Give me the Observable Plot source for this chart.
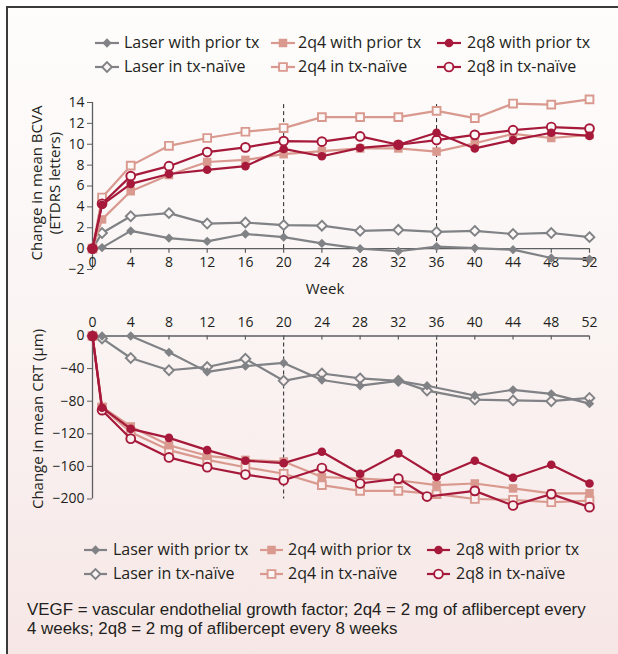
<!DOCTYPE html>
<html><head><meta charset="utf-8">
<script src="https://cdn.jsdelivr.net/npm/d3@7"></script>
<script src="https://cdn.jsdelivr.net/npm/@observablehq/plot@0.6"></script>
<style>
html,body{margin:0;padding:0;background:#fff;}
#root{position:relative;width:618px;height:654px;overflow:hidden;font-family:"Open Sans",sans-serif;color:#231f20;}
#frame{position:absolute;left:6px;top:6px;width:612px;height:648px;border-left:2px solid #3a3a3a;border-top:2px solid #3a3a3a;
  background:linear-gradient(to bottom,#fefdfc 0%,#faf4f3 50%,#f6e7e6 100%);}
.abs{position:absolute;}
.leg{position:absolute;font-size:16px;line-height:20px;white-space:nowrap;}
.leg svg{position:absolute;top:0;}
.ytitle{position:absolute;transform:translate(-50%,-50%) rotate(-90deg);font-size:15px;line-height:17px;text-align:center;white-space:nowrap;}
.foot{position:absolute;font-family:"Liberation Sans",Arial,sans-serif;font-size:16.9px;line-height:19px;white-space:nowrap;}
</style>
</head><body>
<div id="root"><div id="frame"></div></div>
<script>
// ---------- data ----------
const weeks = [0,1,4,8,12,16,20,24,28,32,36,40,44,48,52];
const weeksAlt = [0,1,4,8,12,16,20,24,28,32,35,40,44,48,52];
const xTickLabels = [0,4,8,12,16,20,24,28,32,36,40,44,48,52];
const bcvaTicks = [-2,0,2,4,6,8,10,12,14];
const crtTicks = [0,-40,-80,-120,-160,-200];
const markerWeeks = [20,36];

const seriesNames = ["Laser with prior tx","2q4 with prior tx","2q8 with prior tx","Laser in tx-naïve","2q4 in tx-naïve","2q8 in tx-naïve"];

const bcvaLaserPrior = [0,0.1,1.7,1.0,0.7,1.4,1.1,0.5,0.0,-0.25,0.2,0.05,-0.1,-0.9,-1.0];
const bcvaLaserNaive = [0,1.5,3.1,3.4,2.4,2.5,2.25,2.2,1.7,1.8,1.6,1.7,1.4,1.5,1.1];
const bcva2q4Prior   = [0,2.8,5.5,7.05,8.3,8.5,9.05,9.35,9.6,9.6,9.3,10.1,11.0,10.6,10.9];
const bcva2q4Naive   = [0,4.9,7.95,9.85,10.6,11.2,11.55,12.6,12.6,12.6,13.2,12.5,13.9,13.8,14.3];
const bcva2q8Prior   = [0,4.2,6.2,7.15,7.55,7.9,9.55,8.85,9.65,9.95,11.1,9.6,10.4,11.1,10.8];
const bcva2q8Naive   = [0,4.3,6.95,7.9,9.25,9.7,10.3,10.25,10.75,9.95,10.4,10.9,11.35,11.65,11.5];

const crtLaserPrior = [0,0,0,-20,-44,-37,-33,-54,-61,-55,-61,-73,-66,-71,-83];      // weeksAlt
const crtLaserNaive = [0,-3,-27,-42,-38,-28,-55,-46,-52,-55,-67,-78,-79,-80,-76];   // weeksAlt
const crt2q4Prior   = [0,-87,-111,-134,-147,-152,-154,-173,-175,-177,-183,-181,-187,-193,-193];
const crt2q4Naive   = [0,-88,-118,-140,-152,-161,-169,-183,-190,-190,-194,-200,-201,-204,-202];
const crt2q8Prior   = [0,-88,-114,-125,-140,-153,-156,-142,-169,-144,-173,-153,-174,-158,-181];
const crt2q8Naive   = [0,-91,-126,-149,-161,-170,-177,-162,-181,-175,-197,-190,-208,-194,-210]; // weeksAlt

const footLines = ["VEGF = vascular endothelial growth factor; 2q4 = 2 mg of aflibercept every",
                   "4 weeks; 2q8 = 2 mg of aflibercept every 8 weeks"];

// ---------- styles ----------
const GRAY = "#808285", PINK = "#d9998f", CRIMSON = "#a6193a";
const AXIS = "#5d5e61", TEXT = "#231f20";
const styleOf = {
  "Laser with prior tx": {color: GRAY, symbol: "diamond2", filled: true, r: 4.2},
  "Laser in tx-naïve":   {color: GRAY, symbol: "diamond2", filled: false, r: 4.4},
  "2q4 with prior tx":   {color: PINK, symbol: "square", filled: true, r: 4.8},
  "2q4 in tx-naïve":     {color: PINK, symbol: "square", filled: false, r: 4.4},
  "2q8 with prior tx":   {color: CRIMSON, symbol: "circle", filled: true, r: 4.3},
  "2q8 in tx-naïve":     {color: CRIMSON, symbol: "circle", filled: false, r: 4.4}
};

function table(xs, ys) { return xs.map((w, i) => ({week: w, value: ys[i]})); }

const bcvaSeries = [
  ["Laser in tx-naïve", table(weeks, bcvaLaserNaive)],
  ["Laser with prior tx", table(weeks, bcvaLaserPrior)],
  ["2q4 with prior tx", table(weeks, bcva2q4Prior)],
  ["2q4 in tx-naïve", table(weeks, bcva2q4Naive)],
  ["2q8 in tx-naïve", table(weeks, bcva2q8Naive)],
  ["2q8 with prior tx", table(weeks, bcva2q8Prior)]
];
const crtSeries = [
  ["Laser in tx-naïve", table(weeksAlt, crtLaserNaive)],
  ["Laser with prior tx", table(weeksAlt, crtLaserPrior)],
  ["2q4 in tx-naïve", table(weeks, crt2q4Naive)],
  ["2q4 with prior tx", table(weeks, crt2q4Prior)],
  ["2q8 in tx-naïve", table(weeksAlt, crt2q8Naive)],
  ["2q8 with prior tx", table(weeks, crt2q8Prior)]
];

function seriesMarks(list, bg) {
  const marks = [];
  for (const [name, data] of list) {
    const s = styleOf[name];
    marks.push(Plot.line(data, {x: "week", y: "value", stroke: s.color, strokeWidth: 2.2}));
    marks.push(Plot.dot(data, {x: "week", y: "value", symbol: s.symbol, r: s.r,
      fill: s.filled ? s.color : bg, stroke: s.color, strokeWidth: s.filled ? 0 : 1.9}));
  }
  return marks;
}

const root = document.getElementById("root");

// ---------- top chart (BCVA) ----------
const topChart = Plot.plot({
  width: 618, height: 210,
  marginLeft: 92, marginRight: 29, marginTop: 12, marginBottom: 31,
  x: {domain: [0, 52], axis: null},
  y: {domain: [-2, 14], axis: null},
  style: {background: "transparent", overflow: "visible", fontFamily: "Open Sans, sans-serif"},
  marks: [
    Plot.ruleX(markerWeeks, {x: d => d, y1: 0, y2: 14, stroke: "#222", strokeWidth: 1, strokeDasharray: "4,3"}),
    Plot.axisY({ticks: bcvaTicks, tickSize: 5, tickPadding: 3, stroke: AXIS, fill: TEXT, fontSize: 14, label: null}),
    Plot.ruleX([0], {y1: -2, y2: 14, stroke: AXIS, strokeWidth: 1.3}),
    Plot.ruleY([0], {x1: 0, x2: 52, stroke: AXIS, strokeWidth: 1.3}),
    Plot.ruleX(xTickLabels, {x: d => d, y1: 0, y2: -0.45, stroke: AXIS, strokeWidth: 1.2}),
    Plot.text(xTickLabels, {x: d => d, y: 0, dy: 14, text: d => String(d), fill: TEXT, fontSize: 14}),
    ...seriesMarks(bcvaSeries, "#fcf8f7")
  ]
});
topChart.style.position = "absolute"; topChart.style.left = "0px"; topChart.style.top = "90px";
root.appendChild(topChart);

// ---------- bottom chart (CRT) ----------
const botChart = Plot.plot({
  width: 618, height: 220,
  marginLeft: 92, marginRight: 29, marginTop: 35.5, marginBottom: 21.5,
  x: {domain: [0, 52], axis: null},
  y: {domain: [-200, 0], axis: null},
  style: {background: "transparent", overflow: "visible", fontFamily: "Open Sans, sans-serif"},
  marks: [
    Plot.ruleX(markerWeeks, {x: d => d, y1: 0, y2: -200, stroke: "#222", strokeWidth: 1, strokeDasharray: "4,3"}),
    Plot.axisY({ticks: crtTicks, tickSize: 5, tickPadding: 3, stroke: AXIS, fill: TEXT, fontSize: 14, label: null}),
    Plot.ruleX([0], {y1: -200, y2: 0, stroke: AXIS, strokeWidth: 1.3}),
    Plot.ruleY([0], {x1: 0, x2: 52, stroke: AXIS, strokeWidth: 1.3}),
    Plot.ruleX(xTickLabels, {x: d => d, y1: 0, y2: -5, stroke: AXIS, strokeWidth: 1.2}),
    Plot.text(xTickLabels, {x: d => d, y: 0, dy: -13, text: d => String(d), fill: TEXT, fontSize: 14}),
    ...seriesMarks(crtSeries, "#f9f0ef")
  ]
});
botChart.style.position = "absolute"; botChart.style.left = "0px"; botChart.style.top = "300px";
root.appendChild(botChart);

// ---------- axis titles ----------
function addDiv(cls, html, css) {
  const d = document.createElement("div");
  d.className = cls; d.innerHTML = html;
  Object.assign(d.style, css);
  root.appendChild(d);
  return d;
}
addDiv("ytitle", "Change in mean BCVA<br>(ETDRS letters)", {left: "45px", top: "183px", lineHeight: "17.5px"});
addDiv("ytitle", "Change in mean CRT (μm)", {left: "37px", top: "419px"});
addDiv("abs", "Week", {left: "325px", top: "288px", transform: "translate(-50%,-50%)", fontSize: "15px"});

// ---------- legends ----------
function swatch(name, w) {
  const s = styleOf[name];
  const bg = "#fbf6f5";
  const symMap = {diamond2: d3.symbolDiamond2, square: d3.symbolSquare, circle: d3.symbolCircle};
  const path = d3.symbol(symMap[s.symbol], Math.PI * s.r * s.r)();
  return `<svg width="${w}" height="20" viewBox="0 0 ${w} 20"><line x1="0" x2="${w}" y1="10" y2="10" stroke="${s.color}" stroke-width="2.2"/>` +
    `<path d="${path}" transform="translate(${w/2},10)" fill="${s.filled ? s.color : bg}" stroke="${s.color}" stroke-width="${s.filled ? 0 : 1.9}"/></svg>`;
}
function legend(rowYs, symXs, textXs, w) {
  seriesNames.forEach((name, i) => {
    const row = Math.floor(i / 3), col = i % 3;
    const y = rowYs[row] - 10;
    addDiv("leg", swatch(name, w), {left: symXs[col] + "px", top: y + "px", width: w + "px", height: "20px"});
    addDiv("leg", name, {left: textXs[col] + "px", top: (y - 1) + "px"});
  });
}
legend([43, 67], [95, 271, 437], [124, 298, 467], 24);
legend([550, 574], [84, 260, 427], [113, 288, 456], 23);

// ---------- footnote ----------
footLines.forEach((t, i) => {
  addDiv("foot", t, {left: "27px", top: (600 + i * 19) + "px"});
});
</script>
</body></html>
